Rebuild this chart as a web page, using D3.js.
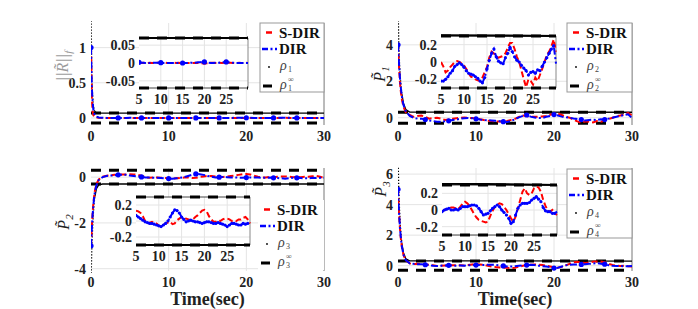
<!DOCTYPE html>
<html>
<head>
<meta charset="utf-8">
<script src="https://cdn.jsdelivr.net/npm/d3@7"></script>
<style>
  body { margin: 0; background: #fff; }
</style>
</head>
<body>
<div id="chart"></div>
<script>
// sample times: dense at the start, then every 0.5 s
const tEarly = [0, 0.1, 0.2, 0.3, 0.4, 0.5, 0.7, 1, 1.5, 2, 2.5, 3, 3.5, 4, 4.5];
const tLate = d3.range(5, 30.001, 0.5);
const time = tEarly.concat(tLate);

// performance bound rho(t) sample times
const rhoTime = [0, 0.1, 0.2, 0.3, 0.4, 0.5, 0.7, 1, 1.5, 30];

const xTicks = [0, 10, 20, 30];
const insetTicks = [5, 10, 15, 20, 25];

// ||R~||_f
const r1Sdir = [1, 0.3, 0.1, 0.04, 0.02, 0.01, 0.005, 0.002, 0.001, 0.001, 0, 0, 0.001, 0, 0,
  0.001, 0, 0.001, 0, 0, 0.001, 0, 0, 0.001, 0.001,
  0, 0, 0.001, 0, 0, 0, 0.001, 0, 0.001, 0,
  0.001, 0, 0, 0, 0, 0, 0.001, 0, 0, -0.001,
  -0.002, -0.001, 0, 0.001, 0.001, 0, 0, 0.001, 0, 0.001,
  0.002, 0.001, 0.001, 0, 0, 0, 0.001, 0, 0, 0.001,
  0];
const r1Dir = [1, 0.45, 0.25, 0.12, 0.07, 0.04, 0.02, 0.008, 0.003, 0.001, 0, 0, 0, 0, 0,
  0.002, 0.001, 0.001, 0, 0, 0, 0, 0.001, 0.001, 0.001,
  0.001, 0, 0, 0, 0, 0, 0, 0, 0, 0,
  0, 0, 0, 0, 0.001, 0.001, 0.001, 0.002, 0.002, 0.003,
  0.003, 0.002, 0.001, 0, 0, 0.001, 0.001, 0.001, 0.002, 0.002,
  0.003, 0.002, 0.001, 0.001, 0, 0, 0, 0, 0, 0,
  0];
const rho1 = [1.6, 0.6, 0.32, 0.18, 0.12, 0.09, 0.075, 0.07, 0.07, 0.07];

// P~1
const p1Sdir = [4, 3.0, 2.3, 1.7, 1.3, 1.0, 0.6, 0.3, 0.15, 0.05, 0.1, 0.12, 0.05, -0.05, -0.02,
  0.0, -0.05, -0.12, -0.1, -0.06, -0.03, 0.0, 0.01, 0.0, -0.02,
  -0.04, -0.08, -0.13, -0.17, -0.18, -0.2, -0.21, -0.22, -0.18, -0.12,
  -0.06, 0.05, 0.12, 0.1, 0.06, 0.05, 0.06, 0.07, 0.1, 0.16,
  0.22, 0.22, 0.15, 0.06, 0.0, -0.1, -0.2, -0.29, -0.2, -0.22,
  -0.26, -0.18, -0.22, -0.15, -0.08, 0.0, 0.08, 0.12, 0.18, 0.26,
  0.12];
const p1Dir = [4, 3.2, 2.5, 1.9, 1.5, 1.15, 0.7, 0.35, 0.1, 0.0, -0.05, -0.05, -0.1, -0.15, -0.18,
  -0.22, -0.22, -0.2, -0.17, -0.13, -0.1, -0.05, -0.03, -0.01, -0.03,
  -0.06, -0.1, -0.13, -0.14, -0.15, -0.17, -0.19, -0.22, -0.24, -0.18,
  -0.08, 0.02, 0.1, 0.15, 0.06, 0.01, -0.01, -0.02, 0.05, 0.1,
  0.17, 0.12, 0.06, 0.02, 0.0, -0.04, -0.07, -0.1, -0.15, -0.12,
  -0.11, -0.13, -0.09, -0.1, -0.05, 0.0, 0.05, 0.1, 0.15, 0.19,
  -0.02];
const rho2 = [6.5, 4.1, 2.9, 2.2, 1.7, 1.3, 0.8, 0.45, 0.31, 0.3];

// P~2
const p2Sdir = [-3, -2.2, -1.6, -1.15, -0.85, -0.6, -0.3, -0.1, 0.02, 0.06, 0.08, 0.1, 0.1, 0.12, 0.12,
  0.13, 0.12, 0.1, 0.06, 0.0, -0.03, -0.02, -0.01, -0.03, -0.03,
  -0.06, -0.07, -0.05, -0.03, -0.02, -0.01, -0.04, -0.03, 0.01, 0.03,
  0.05, 0.05, 0.03, 0.02, 0.01, 0.02, 0.05, 0.07, 0.1, 0.13,
  0.14, 0.12, 0.06, 0.02, -0.01, -0.01, 0.01, 0.0, 0.02, 0.03,
  0.03, 0.02, 0.0, 0.01, 0.0, 0.02, 0.02, 0.04, 0.05, 0.02,
  -0.03];
const p2Dir = [-3, -2.3, -1.7, -1.25, -0.9, -0.65, -0.35, -0.12, 0.0, 0.05, 0.07, 0.08, 0.1, 0.1, 0.1,
  0.07, 0.05, 0.03, 0.01, -0.01, -0.02, -0.03, -0.03, -0.04, -0.05,
  -0.06, -0.07, -0.05, -0.03, 0.0, 0.05, 0.1, 0.14, 0.13, 0.1,
  0.05, 0.02, -0.01, 0.0, 0.01, 0.0, -0.01, -0.01, -0.02, -0.03,
  -0.02, -0.01, -0.01, -0.02, -0.03, -0.03, -0.02, -0.03, -0.04, -0.05,
  -0.07, -0.05, -0.03, -0.03, -0.04, -0.05, -0.05, -0.03, -0.04, -0.03,
  -0.03];
const rho3 = [-4.6, -3.2, -2.3, -1.6, -1.15, -0.85, -0.5, -0.34, -0.3, -0.3];

// P~3
const p3Sdir = [5, 3.7, 2.8, 2.1, 1.6, 1.2, 0.7, 0.35, 0.15, 0.1, 0.12, 0.1, 0.08, 0.05, 0.02,
  -0.02, 0.0, 0.01, 0.02, 0.03, 0.03, 0.02, 0.01, 0.04, 0.08,
  0.1, 0.08, 0.05, 0.0, -0.05, -0.09, -0.12, -0.13, -0.14, -0.15,
  -0.14, -0.07, -0.01, 0.04, 0.06, 0.08, 0.07, 0.04, 0.0, -0.05,
  -0.1, -0.14, -0.08, 0.02, 0.12, 0.22, 0.26, 0.2, 0.18, 0.2,
  0.26, 0.28, 0.27, 0.22, 0.12, 0.05, -0.01, -0.02, 0.0, -0.04,
  -0.06];
const p3Dir = [5, 3.8, 2.9, 2.2, 1.65, 1.25, 0.72, 0.36, 0.15, 0.12, 0.1, 0.1, 0.06, 0.03, 0.0,
  -0.02, 0.0, 0.01, 0.02, 0.0, 0.0, 0.01, 0.0, 0.02, 0.04,
  0.04, 0.04, 0.05, 0.06, 0.06, 0.05, 0.02, -0.02, -0.06, -0.05,
  -0.04, -0.01, 0.02, 0.04, 0.06, 0.04, 0.0, -0.03, -0.06, -0.1,
  -0.16, -0.14, -0.06, 0.02, 0.06, 0.08, 0.08, 0.08, 0.09, 0.12,
  0.14, 0.16, 0.13, 0.1, 0.03, -0.01, -0.02, -0.02, -0.04, -0.04,
  -0.02];
const rho4 = [7.2, 5.0, 3.6, 2.6, 1.95, 1.45, 0.85, 0.45, 0.32, 0.3];

const W = 698, H = 309;
const FONT = "'Liberation Serif', 'DejaVu Serif', serif";
const svg = d3.select("#chart").append("svg")
  .attr("width", W).attr("height", H)
  .attr("font-family", FONT)
  .style("display", "block");
const defs = svg.append("defs");

const panels = [
  { id: 1, sdir: r1Sdir, dir: r1Dir, rho: rho1, rhoInf: 0.07,
    box: [91, 324, 23, 125], yDomain: [-0.1, 1.35], yTicks: [0, 0.5, 1],
    inset: { box: [139, 248, 38, 88], yDomain: [-0.07, 0.07], yTicks: [-0.05, 0, 0.05], markEvery: 5 },
    legend: { box: [260, 324, 23, 92], border: true, idx: 1 },
    ylab: { main: "||R\u0303||", sub: "f", x: 62, y: 66, color: "#9a9a9a" }, xlab: false },
  { id: 2, sdir: p1Sdir, dir: p1Dir, rho: rho2, rhoInf: 0.3,
    box: [398, 632, 23, 125], yDomain: [-0.4, 5.2], yTicks: [0, 2, 4],
    inset: { box: [441, 556, 36, 88], yDomain: [-0.3, 0.3], yTicks: [-0.2, 0, 0.2], markEvery: 0.5 },
    legend: { box: [567, 632, 23, 92], border: true, idx: 2 },
    ylab: { main: "P\u0303", sub: "1", x: 379, y: 74, color: "#222" }, xlab: false },
  { id: 3, sdir: p2Sdir, dir: p2Dir, rho: rho3, rhoInf: 0.3,
    box: [91, 324, 168, 271], yDomain: [-4.1, 0.4], yTicks: [-4, -2, 0],
    inset: { box: [136, 250, 197, 245], yDomain: [-0.3, 0.3], yTicks: [-0.2, 0, 0.2], markEvery: 0.5 },
    legend: { box: [258, 324, 200, 270], border: false, idx: 3 },
    ylab: { main: "P\u0303", sub: "2", x: 63, y: 222, color: "#222" }, xlab: true },
  { id: 4, sdir: p3Sdir, dir: p3Dir, rho: rho4, rhoInf: 0.3,
    box: [398, 632, 168, 271], yDomain: [-0.35, 6.4], yTicks: [0, 2, 4, 6],
    inset: { box: [442, 557, 185, 235], yDomain: [-0.3, 0.3], yTicks: [-0.2, 0, 0.2], markEvery: 0.5 },
    legend: { box: [567, 632, 169, 238], border: true, idx: 4 },
    ylab: { main: "P\u0303", sub: "3", x: 380, y: 189, color: "#222" }, xlab: true }
];

const RED = "#ff0000", BLUE = "#0000ff";
const markTimes = d3.range(0, 30, 10 / 3).map(v => Math.round(v * 2) / 2);

function zip(vals) { return time.map((t, i) => [t, vals[i]]); }

function drawBounds(g, x, y, p, clip, t0, t1, thickRho) {
  const bg = g.append("g").attr("clip-path", `url(#${clip})`);
  // rho_inf dashed lines, both sides
  [p.rhoInf, -p.rhoInf].forEach(v => {
    bg.append("line")
      .attr("x1", x(t0)).attr("x2", x(t1))
      .attr("y1", y(v)).attr("y2", y(v))
      .attr("stroke", "#000").attr("stroke-width", 3)
      .attr("stroke-dasharray", "10,8");
  });
  // rho(t): steep start shows as dots, flat part as a solid line
  const pts = rhoTime.map((t, i) => [t, p.rho[i]]);
  const line = d3.line().x(d => x(d[0])).y(d => y(d[1]));
  bg.append("path").attr("d", line(pts.filter(d => d[0] <= 0.5)))
    .attr("fill", "none").attr("stroke", "#000").attr("stroke-width", 1.3)
    .attr("stroke-dasharray", "1.3,1.7");
  bg.append("path").attr("d", line(pts.filter(d => d[0] >= 0.5)))
    .attr("fill", "none").attr("stroke", "#000").attr("stroke-width", thickRho);
}

function drawSeries(g, x, y, p, clip, filt, marks, r) {
  const sg = g.append("g").attr("clip-path", `url(#${clip})`);
  const line = d3.line().x(d => x(d[0])).y(d => y(d[1]));
  const red = zip(p.sdir).filter(filt);
  const blue = zip(p.dir).filter(filt);
  sg.append("path").attr("d", line(red)).attr("fill", "none")
    .attr("stroke", RED).attr("stroke-width", 2).attr("stroke-dasharray", "6,3");
  sg.append("path").attr("d", line(blue)).attr("fill", "none")
    .attr("stroke", BLUE).attr("stroke-width", 2).attr("stroke-dasharray", "7,2.5,2,2.5");
  sg.selectAll("circle.m").data(blue.filter(marks)).join("circle")
    .attr("cx", d => x(d[0])).attr("cy", d => y(d[1])).attr("r", r).attr("fill", BLUE);
}

function addClip(id, b) {
  defs.append("clipPath").attr("id", id).append("rect")
    .attr("x", b[0]).attr("y", b[2] - 2).attr("width", b[1] - b[0] + 1).attr("height", b[3] - b[2] + 4);
}

function drawPanel(p) {
  const [bx0, bx1, by0, by1] = p.box;
  const g = svg.append("g");
  const x = d3.scaleLinear().domain([0, 30]).range([bx0, bx1]);
  const y = d3.scaleLinear().domain(p.yDomain).range([by1, by0]);
  const clip = "clipMain" + p.id;
  addClip(clip, p.box);

  // grid
  g.selectAll("line.vg").data(xTicks.slice(1, -1)).join("line")
    .attr("x1", d => x(d)).attr("x2", d => x(d)).attr("y1", by0).attr("y2", by1)
    .attr("stroke", "#e4e4e4").attr("stroke-width", 1);
  g.selectAll("line.hg").data(p.yTicks).join("line")
    .attr("x1", bx0).attr("x2", bx1).attr("y1", d => y(d)).attr("y2", d => y(d))
    .attr("stroke", "#e4e4e4").attr("stroke-width", 1);
  g.append("line").attr("x1", bx1).attr("x2", bx1).attr("y1", by0).attr("y2", by1)
    .attr("stroke", "#777").attr("stroke-width", 1);

  // tick labels
  g.selectAll("text.yt").data(p.yTicks).join("text")
    .attr("x", bx0 - 5).attr("y", d => y(d)).attr("dy", "0.35em")
    .attr("text-anchor", "end").attr("font-size", 14).attr("font-weight", "bold").attr("fill", "#222")
    .text(d => String(d));
  g.selectAll("text.xt").data(xTicks).join("text")
    .attr("x", d => x(d)).attr("y", by1 + 16)
    .attr("text-anchor", "middle").attr("font-size", 14).attr("font-weight", "bold").attr("fill", "#222")
    .text(d => String(d));

  drawBounds(g, x, y, p, clip, 0, 30, 1.3);
  drawSeries(g, x, y, p, clip, () => true, d => markTimes.includes(d[0]), 2.6);

  // inset
  const ib = p.inset.box;
  const xi = d3.scaleLinear().domain([5, 30]).range([ib[0], ib[1]]);
  const yi = d3.scaleLinear().domain(p.inset.yDomain).range([ib[3], ib[2]]);
  const iclip = "clipInset" + p.id;
  addClip(iclip, ib);
  const ig = svg.append("g");
  ig.append("rect").attr("x", ib[0]).attr("y", ib[2]).attr("width", ib[1] - ib[0]).attr("height", ib[3] - ib[2])
    .attr("fill", "#fff");
  ig.selectAll("line.vg").data(insetTicks.slice(1)).join("line")
    .attr("x1", d => xi(d)).attr("x2", d => xi(d)).attr("y1", ib[2]).attr("y2", ib[3])
    .attr("stroke", "#e4e4e4");
  ig.selectAll("line.hg").data(p.inset.yTicks).join("line")
    .attr("x1", ib[0]).attr("x2", ib[1]).attr("y1", d => yi(d)).attr("y2", d => yi(d))
    .attr("stroke", "#e4e4e4");
  ig.append("line").attr("x1", ib[1]).attr("x2", ib[1]).attr("y1", ib[2]).attr("y2", ib[3])
    .attr("stroke", "#888");
  [ib[2], ib[3]].forEach(v => {
    ig.append("line").attr("x1", ib[0]).attr("x2", ib[1]).attr("y1", v).attr("y2", v)
      .attr("stroke", "#444").attr("stroke-width", 1);
  });
  ig.selectAll("text.yt").data(p.inset.yTicks).join("text")
    .attr("x", ib[0] - 4).attr("y", d => yi(d)).attr("dy", "0.35em")
    .attr("text-anchor", "end").attr("font-size", 14).attr("font-weight", "bold").attr("fill", "#222")
    .text(d => String(d));
  ig.selectAll("text.xt").data(insetTicks).join("text")
    .attr("x", d => xi(d)).attr("y", ib[3] + 16)
    .attr("text-anchor", "middle").attr("font-size", 14).attr("font-weight", "bold").attr("fill", "#222")
    .text(d => String(d));
  drawBounds(ig, xi, yi, p, iclip, 5, 30, 2.2);
  const every = p.inset.markEvery;
  drawSeries(ig, xi, yi, p, iclip, d => d[0] >= 5,
    d => Math.abs(d[0] / every - Math.round(d[0] / every)) < 1e-6 && d[0] < 30,
    every >= 5 ? 2.6 : 1.6);

  // legend
  const lb = p.legend.box;
  const lg = svg.append("g");
  lg.append("rect").attr("x", lb[0]).attr("y", lb[2]).attr("width", lb[1] - lb[0]).attr("height", lb[3] - lb[2])
    .attr("fill", "#fff").attr("stroke", p.legend.border ? "#999" : "none").attr("stroke-width", 1);
  const rows = [9.5, 26, 44, 63].map(o => lb[2] + o);
  const lx = lb[0], tx = lb[0] + 19;
  lg.append("line").attr("x1", lx + 6).attr("x2", lx + 12).attr("y1", rows[0]).attr("y2", rows[0])
    .attr("stroke", RED).attr("stroke-width", 2.5);
  lg.append("line").attr("x1", lx + 2).attr("x2", lx + 17).attr("y1", rows[1]).attr("y2", rows[1])
    .attr("stroke", BLUE).attr("stroke-width", 2.5).attr("stroke-dasharray", "6,2.5,2,2.5");
  lg.append("circle").attr("cx", lx + 9).attr("cy", rows[2]).attr("r", 0.9).attr("fill", "#000");
  lg.append("line").attr("x1", lx + 3).attr("x2", lx + 12).attr("y1", rows[3]).attr("y2", rows[3])
    .attr("stroke", "#000").attr("stroke-width", 3);
  ["S-DIR", "DIR"].forEach((s, i) => {
    lg.append("text").attr("x", tx).attr("y", rows[i]).attr("dy", "0.35em")
      .attr("font-size", 15).attr("font-weight", "bold").attr("fill", "#111").text(s);
  });
  // rho entries: one text element each, sub/superscript as tspans
  [2, 3].forEach(i => {
    const t = lg.append("text").attr("x", tx + 1).attr("y", rows[i] + 3)
      .attr("font-size", 14).attr("fill", "#444");
    t.append("tspan").attr("font-style", "italic").text("\u03c1");
    t.append("tspan").attr("x", tx + 9).attr("dy", 2).attr("font-size", 8).text(String(p.legend.idx));
    if (i === 3) {
      t.append("tspan").attr("x", tx + 9).attr("dy", -9).attr("font-size", 8).text("\u221e");
    }
  });

  // axis labels
  const yl = g.append("text")
    .attr("transform", `translate(${p.ylab.x},${p.ylab.y}) rotate(-90)`)
    .attr("text-anchor", "middle").attr("font-size", 16).attr("font-style", "italic")
    .attr("fill", p.ylab.color);
  yl.append("tspan").attr("dy", "0.35em").text(p.ylab.main);
  yl.append("tspan").attr("dy", 4).attr("font-size", 11).text(p.ylab.sub);

  if (p.xlab) {
    svg.append("text").attr("x", (bx0 + bx1) / 2).attr("y", 305)
      .attr("text-anchor", "middle").attr("font-size", 18).attr("font-weight", "bold").attr("fill", "#222")
      .text("Time(sec)");
  }
}

panels.forEach(drawPanel);
</script>
</body>
</html>
